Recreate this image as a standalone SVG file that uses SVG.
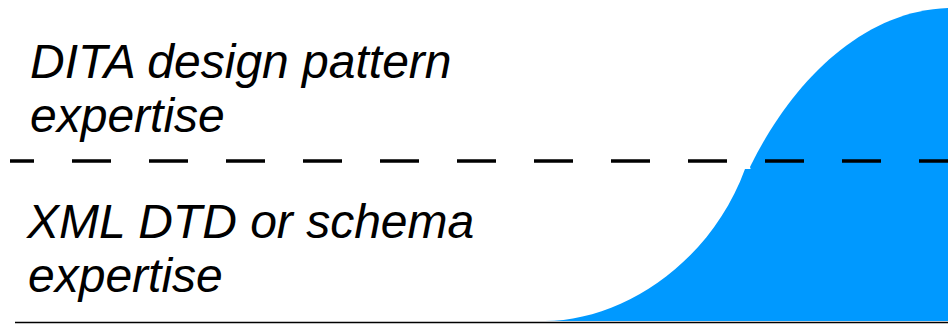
<svg xmlns="http://www.w3.org/2000/svg" width="948" height="325" viewBox="0 0 948 325">
  <style>
    .label { font-family: "Liberation Sans", Arial, sans-serif; font-style: italic; font-size: 48px; fill: #000; }
    .curve { fill: #0099ff; stroke: none; }
    .divider { stroke: #000; stroke-width: 3.5; stroke-dasharray: 39 38; stroke-dashoffset: 15; fill: none; }
    .baseline { stroke: #000; stroke-width: 1.5; fill: none; }
  </style>
  <rect width="948" height="325" fill="#fff"/>

  <!-- S-shaped learning curve, split at the divider -->
  <g id="curve">
    <path class="curve" d="M545,321 C620,321 710,265 745,169 L948,169 L948,321 Z"/>
    <path class="curve" d="M750,167 C790,85 860,11 948,8 L948,170 L751,170 Z"/>
  </g>

  <g id="connectors">
    <line class="divider" x1="10" y1="161" x2="948" y2="161"/>
    <line class="baseline" x1="15" y1="322.5" x2="948" y2="322.5"/>
  </g>

  <g id="upper-label">
    <text class="label" x="30" y="78">DITA design pattern</text>
    <text class="label" x="30" y="132">expertise</text>
  </g>

  <g id="lower-label">
    <text class="label" x="27" y="237.5">XML DTD or schema</text>
    <text class="label" x="28" y="291.5">expertise</text>
  </g>
</svg>
